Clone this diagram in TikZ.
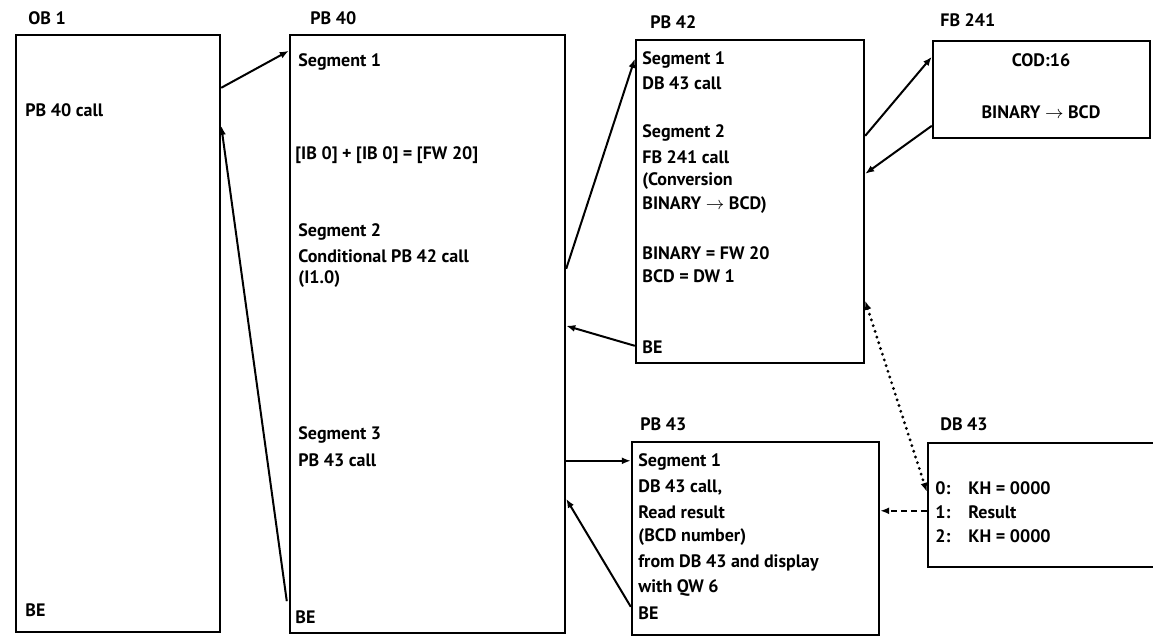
\documentclass[tikz,border=0pt]{standalone}
\usepackage{fontspec}
\setmainfont{PT Sans}
\usetikzlibrary{arrows.meta,calc,positioning}

\begin{document}
\begin{tikzpicture}[x=.5pt,y=-.5pt,>={Latex[length=4.5pt,width=3.5pt]},
  font=\bfseries\fontsize{9}{11}\selectfont]
 \tikzset{
  blk/.style={draw,line width=1.2pt,inner sep=0pt},
  lbl/.style={anchor=west,inner sep=0pt},
  con/.style={->,line width=1pt}
 }
 \useasboundingbox (0,0) rectangle (1153,638);
 % blocks
 \node[blk,minimum width=102pt,minimum height=298.5pt] (ob1) at (118,333.5) {};
 \node[blk,minimum width=137.5pt,minimum height=299pt] (pb40) at (427.5,334) {};
 \node[blk,minimum width=114pt,minimum height=161.5pt] (pb42) at (750,201.5) {};
 \node[blk,minimum width=108.5pt,minimum height=48.5pt] (fb241) at (1041.5,89.5) {};
 \node[blk,minimum width=123.5pt,minimum height=96.5pt] (pb43) at (755.5,538.5) {};
 \node[blk,minimum width=116pt,minimum height=62pt] (db43) at (1044,505) {};
 % titles
 \node[lbl] (ob1-t) at (28,18) {OB 1};
 \node[lbl] (pb40-t) at (310,18) {PB 40};
 \node[lbl] (pb42-t) at (650,22) {PB 42};
 \node[lbl] (fb241-t) at (940,20) {FB 241};
 \node[lbl] (pb43-t) at (640,424) {PB 43};
 \node[lbl] (db43-t) at (940,424) {DB 43};
 % OB 1
 \node[lbl] (ob1-call) at (25,110) {PB 40 call};
 \node[lbl] (ob1-be) at (25,610) {BE};
 % PB 40
 \node[lbl] (pb40-s1) at (298,62) {Segment 1};
 \node[lbl] (pb40-add) at (295,155) {[IB 0] + [IB 0] = [FW 20]};
 \node[lbl] (pb40-s2) at (298,232) {Segment 2};
 \node[lbl] (pb40-c2) at (298,256) {Conditional PB 42 call};
 \node[lbl] (pb40-i) at (298,279) {(I1.0)};
 \node[lbl] (pb40-s3) at (298,435) {Segment 3};
 \node[lbl] (pb40-c3) at (298,460) {PB 43 call};
 \node[lbl] (pb40-be) at (295,617) {BE};
 % PB 42
 \node[lbl] (pb42-s1) at (642,60) {Segment 1};
 \node[lbl] (pb42-db) at (642,83) {DB 43 call};
 \node[lbl] (pb42-s2) at (642,133) {Segment 2};
 \node[lbl] (pb42-fb) at (642,157) {FB 241 call};
 \node[lbl] (pb42-cv) at (642,181) {(Conversion};
 \node[lbl] (pb42-bb) at (642,205) {BINARY $\rightarrow$ BCD)};
 \node[lbl] (pb42-bin) at (642,253) {BINARY = FW 20};
 \node[lbl] (pb42-bcd) at (642,276) {BCD = DW 1};
 \node[lbl] (pb42-be) at (642,347) {BE};
 % FB 241
 \node[inner sep=0pt] (fb241-cod) at (1041,60) {COD:16};
 \node[inner sep=0pt] (fb241-conv) at (1041,112) {BINARY $\rightarrow$ BCD};
 % PB 43
 \node[lbl] (pb43-s1) at (638,462) {Segment 1};
 \node[lbl] (pb43-db) at (638,487) {DB 43 call,};
 \node[lbl] (pb43-rd) at (638,512) {Read result};
 \node[lbl] (pb43-bcd) at (638,537) {(BCD number)};
 \node[lbl] (pb43-fr) at (638,563) {from DB 43 and display};
 \node[lbl] (pb43-qw) at (638,588) {with QW 6};
 \node[lbl] (pb43-be) at (638,613) {BE};
 % DB 43
 \node[lbl] (db43-0) at (935,488) {0:};
 \node[lbl] (db43-0v) at (968,488) {KH = 0000};
 \node[lbl] (db43-1) at (935,512) {1:};
 \node[lbl] (db43-1v) at (968,512) {Result};
 \node[lbl] (db43-2) at (935,536) {2:};
 \node[lbl] (db43-2v) at (968,536) {KH = 0000};
 % calls and returns
 \draw[con] ($(ob1.north east)+(0,54)$) -- ($(pb40.north west)+(0,17)$);
 \draw[con] ($(pb40.south west)+(-2,-33)$) -- ($(ob1.north east)+(0,92)$);
 \draw[con] ($(pb40.north east)+(0,235)$) -- ($(pb42.north west)+(0,20)$);
 \draw[con] ($(pb42.north west)+(0,307)$) -- ($(pb40.north east)+(0,292)$);
 \draw[con] ($(pb42.north east)+(0,97)$) -- ($(fb241.north west)+(0,17)$);
 \draw[con] ($(fb241.north west)+(0,86)$) -- ($(pb42.north east)+(0,135)$);
 \draw[con] ($(pb40.north east)+(0,427)$) -- ($(pb43.north west)+(0,20)$);
 \draw[con] ($(pb43.north west)+(0,166)$) -- ($(pb40.north east)+(0,465)$);
 % data block access
 \draw[con,<->,line cap=round,dash pattern=on 0pt off 3pt,line width=1.6pt] ($(pb42.north east)+(0,262)$) -- ($(db43.north west)+(0,50)$);
 \draw[con,dash pattern=on 3pt off 2pt] ($(db43.north west)+(0,69)$) -- ($(pb43.north east)+(0,70)$);
\end{tikzpicture}
\end{document}
